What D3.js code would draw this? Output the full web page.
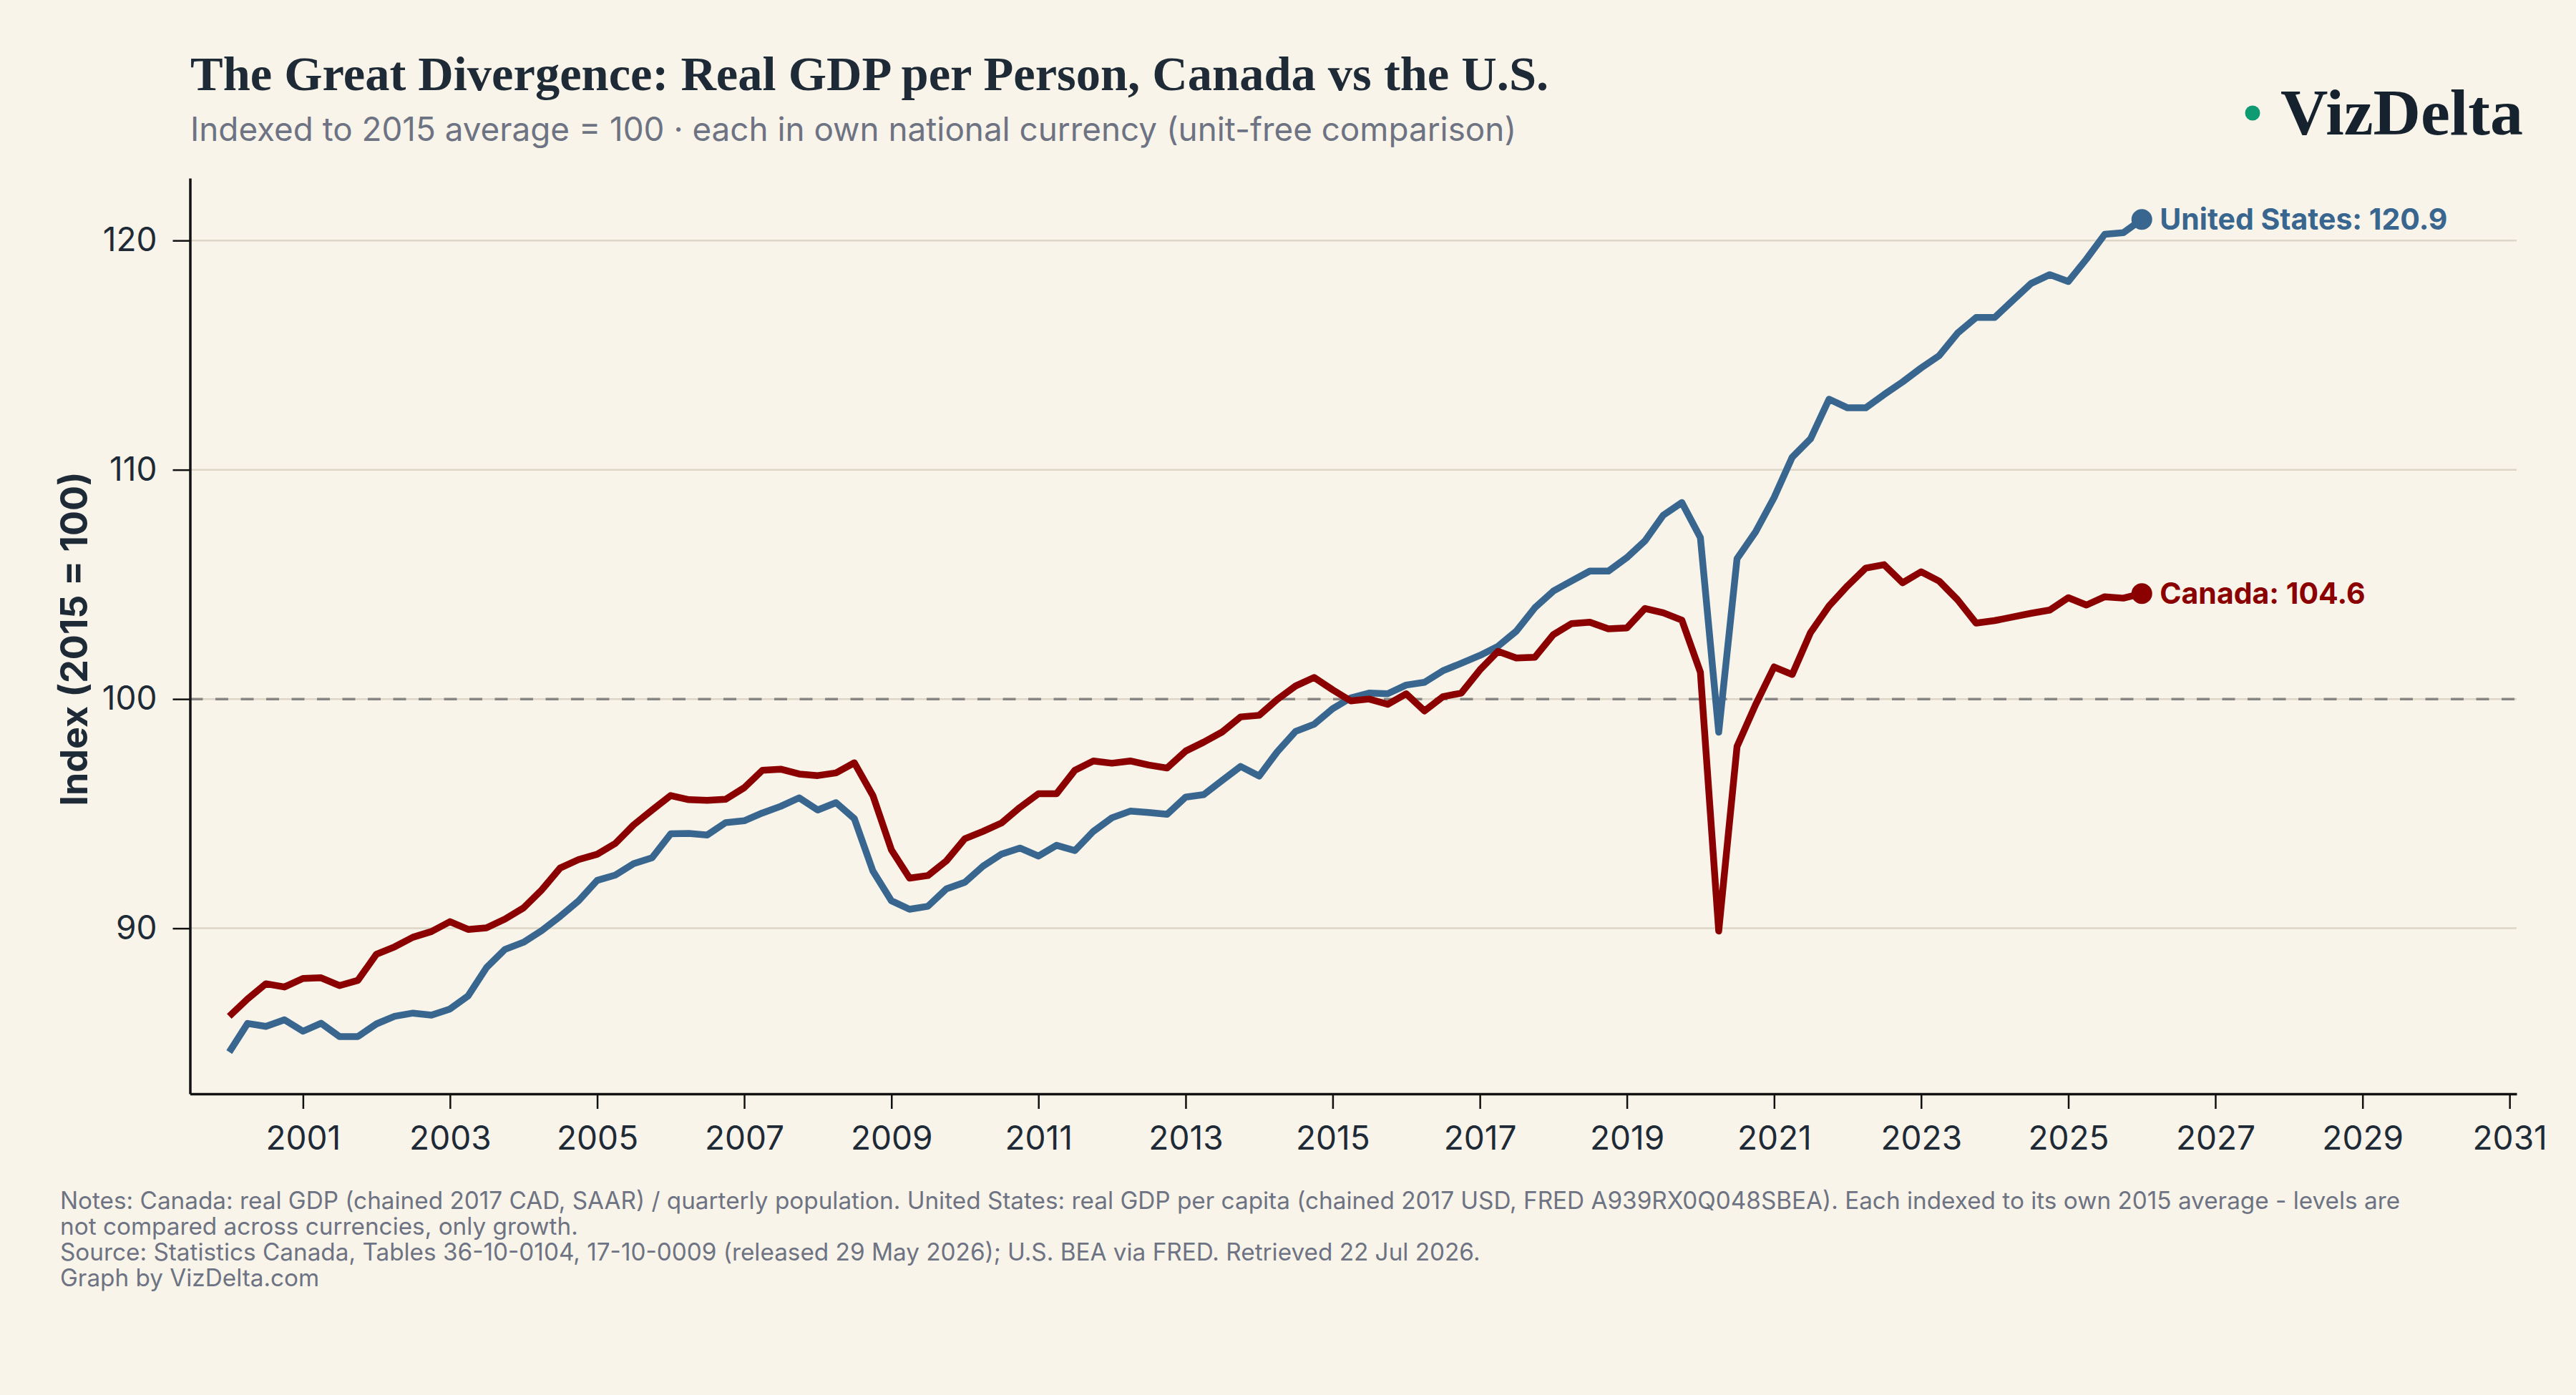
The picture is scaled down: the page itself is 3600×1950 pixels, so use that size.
<!DOCTYPE html>
<html>
<head>
<meta charset="utf-8">
<script src="https://cdn.jsdelivr.net/npm/d3@7"></script>
<style>
  html, body { margin: 0; padding: 0; background: #f8f4ea; }
  svg { display: block; }
</style>
</head>
<body>
<svg id="chart"></svg>
<script>
// quarterly index values, 2000Q1 .. 2026Q1 (2015 avg = 100)
const canada = [
  86.16, 86.92, 87.58, 87.44, 87.81, 87.84, 87.50, 87.73, 88.87, 89.19,
  89.61, 89.86, 90.29, 89.95, 90.02, 90.40, 90.89, 91.68, 92.63, 93.00,
  93.23, 93.70, 94.51, 95.16, 95.79, 95.61, 95.58, 95.63, 96.13, 96.89,
  96.94, 96.73, 96.66, 96.78, 97.22, 95.79, 93.42, 92.19, 92.30, 92.94,
  93.91, 94.23, 94.59, 95.27, 95.87, 95.87, 96.89, 97.30, 97.20, 97.30,
  97.12, 96.99, 97.73, 98.12, 98.56, 99.22, 99.29, 99.98, 100.57, 100.94,
  100.40, 99.92, 100.00, 99.77, 100.23, 99.48, 100.10, 100.26, 101.27, 102.08,
  101.79, 101.82, 102.81, 103.29, 103.35, 103.06, 103.10, 103.95, 103.76, 103.44,
  101.17, 89.88, 97.93, 99.75, 101.40, 101.07, 102.90, 104.06, 104.94, 105.71,
  105.86, 105.07, 105.55, 105.14, 104.33, 103.31, 103.42, 103.58, 103.74, 103.88,
  104.42, 104.10, 104.46, 104.40, 104.60
];

const unitedStates = [
  84.60, 85.85, 85.72, 86.01, 85.51, 85.86, 85.28, 85.28, 85.83, 86.16,
  86.30, 86.21, 86.48, 87.05, 88.28, 89.08, 89.39, 89.90, 90.52, 91.20,
  92.09, 92.32, 92.82, 93.08, 94.12, 94.14, 94.07, 94.61, 94.69, 95.03,
  95.32, 95.69, 95.16, 95.48, 94.78, 92.50, 91.20, 90.83, 90.96, 91.72,
  92.01, 92.71, 93.23, 93.50, 93.15, 93.62, 93.39, 94.23, 94.82, 95.11,
  95.05, 94.97, 95.72, 95.83, 96.45, 97.06, 96.64, 97.70, 98.59, 98.90,
  99.58, 100.05, 100.26, 100.23, 100.61, 100.73, 101.23, 101.56, 101.90, 102.30,
  102.96, 103.98, 104.71, 105.15, 105.58, 105.58, 106.17, 106.90, 108.02, 108.57,
  107.04, 98.55, 106.12, 107.29, 108.79, 110.55, 111.35, 113.08, 112.70, 112.70,
  113.28, 113.83, 114.44, 114.98, 115.96, 116.64, 116.64, 117.39, 118.13, 118.51,
  118.21, 119.19, 120.27, 120.34, 120.92
];

const firstQuarter = new Date(2000, 0, 1);
const quarters = canada.map((d, i) => d3.timeMonth.offset(firstQuarter, i * 3));

const yTicks = [90, 100, 110, 120];
const xTickYears = [2001, 2003, 2005, 2007, 2009, 2011, 2013, 2015, 2017, 2019, 2021, 2023, 2025, 2027, 2029, 2031];

const series = [
  {name: 'United States', values: unitedStates, color: '#38668f'},
  {name: 'Canada', values: canada, color: '#8b0000'}
];

const notes = [
  'Notes: Canada: real GDP (chained 2017 CAD, SAAR) / quarterly population. United States: real GDP per capita (chained 2017 USD, FRED A939RX0Q048SBEA). Each indexed to its own 2015 average - levels are',
  'not compared across currencies, only growth.',
  'Source: Statistics Canada, Tables 36-10-0104, 17-10-0009 (released 29 May 2026); U.S. BEA via FRED. Retrieved 22 Jul 2026.',
  'Graph by VizDelta.com'
];

const width = 3600;
const height = 1950;
const margin = {top: 249, right: 83, bottom: 421, left: 265.5};

const ink = '#1f2a37';
const muted = '#6e7383';
const sans = 'Inter, "Noto Sans", sans-serif';
const serif = '"Liberation Serif", "DejaVu Serif", serif';

const svg = d3.select('#chart')
  .attr('width', width)
  .attr('height', height)
  .style('background', '#f8f4ea');

let xScale = d3.scaleTime()
  .domain([new Date(1999, 5, 20), new Date(2031, 1, 5)])
  .range([margin.left, width - margin.right]);

let yScale = d3.scaleLinear()
  .domain([82.78, 122.72])
  .range([height - margin.bottom, margin.top]);

// gridlines
svg.append('g')
  .selectAll('line')
  .data(yTicks)
  .join('line')
  .attr('x1', margin.left)
  .attr('x2', width - margin.right)
  .attr('y1', d => yScale(d))
  .attr('y2', d => yScale(d))
  .attr('stroke', '#ddd6c7')
  .attr('stroke-width', 2.5);

// 2015 = 100 reference
svg.append('line')
  .attr('x1', margin.left)
  .attr('x2', width - margin.right)
  .attr('y1', yScale(100))
  .attr('y2', yScale(100))
  .attr('stroke', '#878684')
  .attr('stroke-width', 3.5)
  .attr('stroke-dasharray', '18 17.5');

// axes
let yAxis = (g) => {
  return g
  .attr('transform', `translate(${margin.left},0)`)
  .call(d3.axisLeft(yScale).tickValues(yTicks).tickSize(24).tickSizeOuter(0).tickPadding(22))
}

let xAxis = (g) => {
  return g
  .attr('transform', `translate(0,${height - margin.bottom})`)
  .call(d3.axisBottom(xScale)
    .tickValues(xTickYears.map(y => new Date(y, 0, 1)))
    .tickFormat(d3.timeFormat('%Y'))
    .tickSize(21).tickSizeOuter(0).tickPadding(24))
}

[svg.append('g').call(yAxis), svg.append('g').call(xAxis)].forEach(g => {
  g.attr('font-family', sans).attr('font-size', 46);
  g.select('.domain').attr('stroke', '#111').attr('stroke-width', 3.5);
  g.selectAll('.tick line').attr('stroke', '#111').attr('stroke-width', 2.5);
  g.selectAll('.tick text').attr('fill', ink);
});

svg.append('text')
  .attr('transform', `translate(104,${(margin.top + height - margin.bottom) / 2 + 4}) rotate(-90)`)
  .attr('text-anchor', 'middle')
  .attr('dy', '0.35em')
  .attr('font-family', sans)
  .attr('font-weight', 700)
  .attr('font-size', 52)
  .attr('fill', ink)
  .text('Index (2015 = 100)');

// lines
let line = d3.line()
  .x((d, i) => xScale(quarters[i]))
  .y(d => yScale(d));

svg.append('g')
  .selectAll('path')
  .data(series)
  .join('path')
  .attr('d', d => line(d.values))
  .attr('fill', 'none')
  .attr('stroke', d => d.color)
  .attr('stroke-width', 9.5)
  .attr('stroke-linejoin', 'round');

const last = quarters.length - 1;

let ends = svg.append('g')
  .selectAll('g')
  .data(series)
  .join('g')
  .attr('transform', d => `translate(${xScale(quarters[last])},${yScale(d.values[last])})`);

ends.append('circle')
  .attr('r', 14.5)
  .attr('fill', d => d.color);

ends.append('text')
  .attr('x', 25)
  .attr('dy', '0.36em')
  .attr('font-family', sans)
  .attr('font-weight', 700)
  .attr('font-size', 41)
  .attr('fill', d => d.color)
  .text(d => `${d.name}: ${d.values[last].toFixed(1)}`);

// title block
svg.append('text')
  .attr('x', 266)
  .attr('y', 126)
  .attr('font-family', serif)
  .attr('font-weight', 700)
  .attr('font-size', 68.5)
  .attr('fill', ink)
  .text('The Great Divergence: Real GDP per Person, Canada vs the U.S.');

svg.append('text')
  .attr('x', 266)
  .attr('y', 197)
  .attr('font-family', sans)
  .attr('font-size', 45.8)
  .attr('fill', muted)
  .text('Indexed to 2015 average = 100 \u00b7 each in own national currency (unit-free comparison)');

// logo
svg.append('circle')
  .attr('cx', 3148)
  .attr('cy', 158)
  .attr('r', 10.5)
  .attr('fill', '#0f9b72');

svg.append('text')
  .attr('x', 3526)
  .attr('y', 188)
  .attr('text-anchor', 'end')
  .attr('font-family', serif)
  .attr('font-weight', 700)
  .attr('font-size', 92)
  .attr('fill', '#16232e')
  .text('VizDelta');

// notes
svg.append('g')
  .selectAll('text')
  .data(notes)
  .join('text')
  .attr('x', 84)
  .attr('y', (d, i) => 1690 + i * 36)
  .attr('font-family', sans)
  .attr('font-size', 33.3)
  .attr('fill', muted)
  .text(d => d);
</script>
</body>
</html>
